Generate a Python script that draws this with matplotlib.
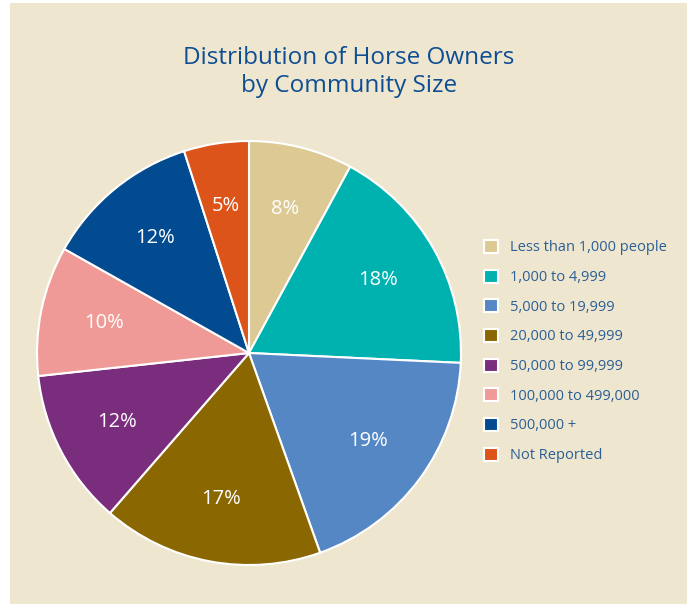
import matplotlib.pyplot as plt
from matplotlib.patches import Rectangle

plt.rcParams['font.family'] = ['Open Sans', 'DejaVu Sans']

# data
categories = ["Less than 1,000 people", "1,000 to 4,999", "5,000 to 19,999",
              "20,000 to 49,999", "50,000 to 99,999", "100,000 to 499,000",
              "500,000 +", "Not Reported"]
shares = [8, 18, 19, 17, 12, 10, 12, 5]
colors = ["#DCC994", "#00B2AF", "#5587C5", "#8A6700",
          "#7B2D7D", "#F09A97", "#034B91", "#DC5419"]

W, H = 687, 604
fig = plt.figure(figsize=(W / 100, H / 100), dpi=100)
fig.patch.set_facecolor("white")

# beige panel behind everything
fig.patches.append(Rectangle((10 / W, 0), 1 - 10 / W, 1 - 3 / H,
                             transform=fig.transFigure, facecolor="#EFE6CF",
                             edgecolor="none", zorder=-10))

# pie axes: center (249, 353) px, radius 212 px
cx, cy, r = 249, 353, 212
lim = 1.03
size = 2 * lim * r
ax = fig.add_axes([(cx - size / 2) / W, (H - cy - size / 2) / H, size / W, size / H])
ax.set_zorder(1)

pct_labels = iter([f"{v}%" for v in shares])
wedges, texts, autotexts = ax.pie(
    shares, colors=colors, startangle=90, counterclock=False,
    autopct=lambda p: next(pct_labels), pctdistance=0.70,
    wedgeprops=dict(edgecolor="white", linewidth=1.5),
    textprops=dict(color="white", fontsize=14.5))
ax.set_xlim(-lim, lim)
ax.set_ylim(-lim, lim)
ax.set_aspect("equal")
ax.axis("off")

fig.text(349 / W, 1 - 72 / H, "Distribution of Horse Owners\nby Community Size",
         ha="center", va="center", color="#0D4E93", fontsize=17.5, linespacing=1.2)

fig.legend(wedges, categories, loc="upper left",
           bbox_to_anchor=(478 / W, 1 - 234 / H), frameon=False,
           fontsize=10.5, labelcolor="#2B5F95", handlelength=1.0, handleheight=1.0,
           handletextpad=0.8, labelspacing=0.97, borderaxespad=0)

fig.savefig("out.png", dpi=100)
